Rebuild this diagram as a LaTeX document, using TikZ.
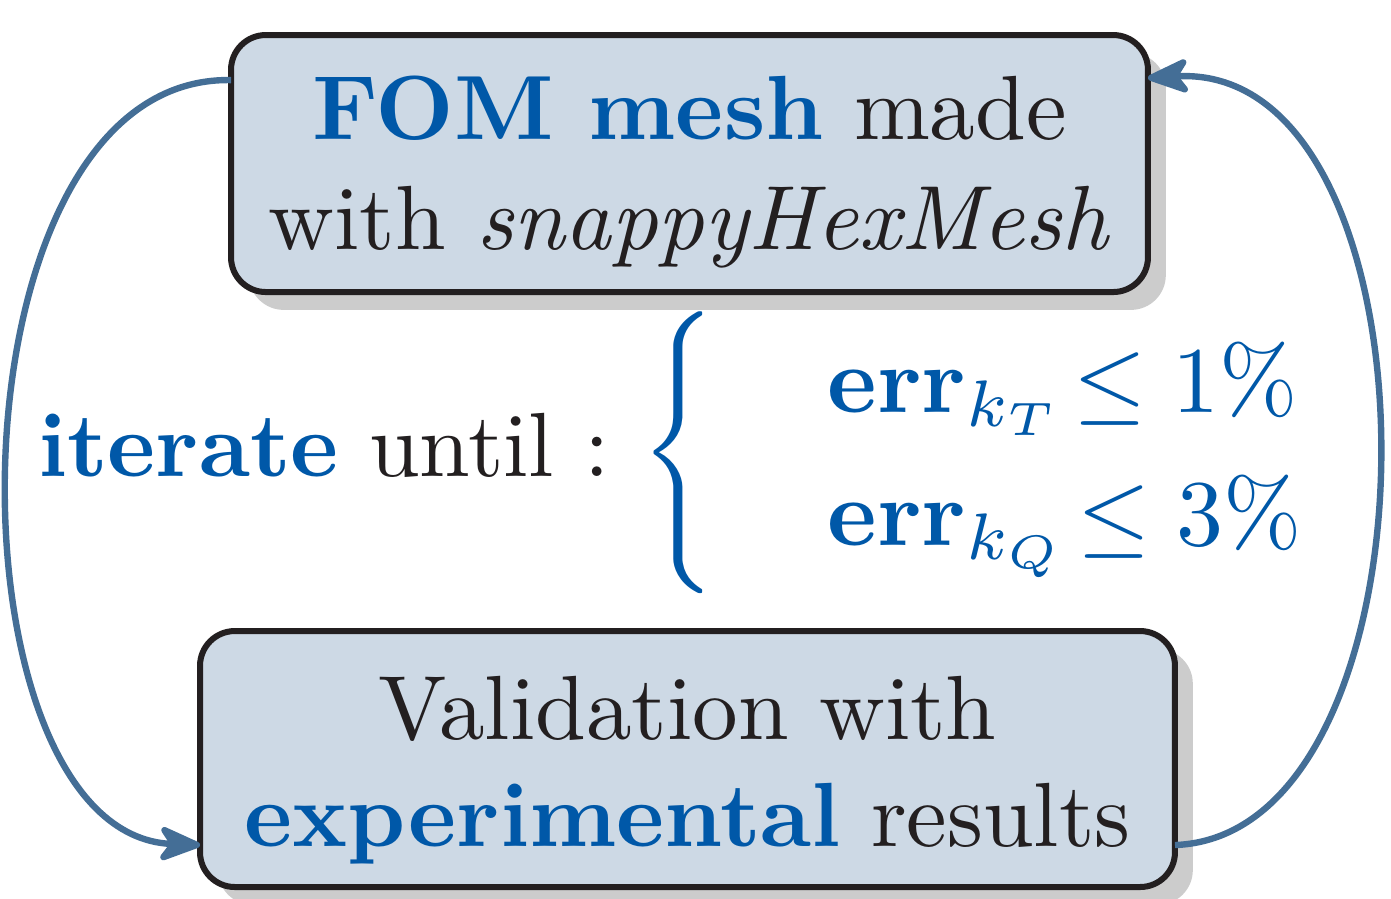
\documentclass[tikz,border=0pt]{standalone}
\usetikzlibrary{arrows.meta,shadows}
\definecolor{tblue}{RGB}{0,88,168}
\definecolor{arrowc}{RGB}{68,110,150}
\definecolor{boxfill}{RGB}{205,217,229}
\definecolor{boxline}{RGB}{35,31,32}
\definecolor{shade}{RGB}{204,204,204}
\tikzset{
  mainbox/.style={draw=boxline, fill=boxfill, line width=0.64pt, rounded corners=3.7pt,
    inner sep=0pt, outer sep=0pt, align=center, text=boxline,
    drop shadow={shadow xshift=1.9pt, shadow yshift=-1.9pt, fill=shade, opacity=1}},
  loop/.style={draw=arrowc, line width=0.68pt,
    -{Stealth[length=5.3pt,width=4.3pt,inset=1.5pt,round]}},
  plain/.style={inner sep=0pt, outer sep=0pt, font=\fontsize{9.7}{11.3}\selectfont},
}
\begin{document}
\begin{tikzpicture}[x=0.10638pt,y=-0.10638pt]
\useasboundingbox (0,0) rectangle (1391,898);
\node[mainbox, font=\fontsize{9.7}{11.7}\selectfont, minimum width=97.55pt, minimum height=27.34pt] (top) at (689.5,163.5)
  {\rule{0pt}{8.5pt}\textcolor{tblue}{\textbf{FOM mesh}} made\\ with \emph{snappyHexMesh}};
\node[mainbox, font=\fontsize{9.7}{11.38}\selectfont, minimum width=103.72pt, minimum height=27.23pt] (bot) at (687.5,759)
  {\rule{0pt}{9.1pt}Validation with\\ \textcolor{tblue}{\textbf{experimental}} results};
\node[plain, anchor=base west, text=boxline] (iter) at (38,476)
  {\textcolor{tblue}{\textbf{iterate}} until :};
\node[plain, text=tblue] (brace) at (684,453)
  {$\left\{\vrule height 11.5pt depth 11.5pt width 0pt\right.$};
\node[plain, anchor=base west, text=tblue] (c1) at (828,412)
  {$\mathbf{err}_{k_T} \mkern-3mu\leq 1\%$};
\node[plain, anchor=base west, text=tblue] (c2) at (828,545)
  {$\mathbf{err}_{k_Q} \mkern-3mu\leq 3\%$};
\draw[loop] ([yshift=8.88pt]top.west) .. controls (-60,75) and (-60,835) .. ([yshift=-9.15pt]bot.west);
\draw[loop] ([yshift=-9.15pt]bot.east) .. controls (1450,835) and (1450,60) .. ([yshift=9.1pt]top.east);
\end{tikzpicture}
\end{document}
